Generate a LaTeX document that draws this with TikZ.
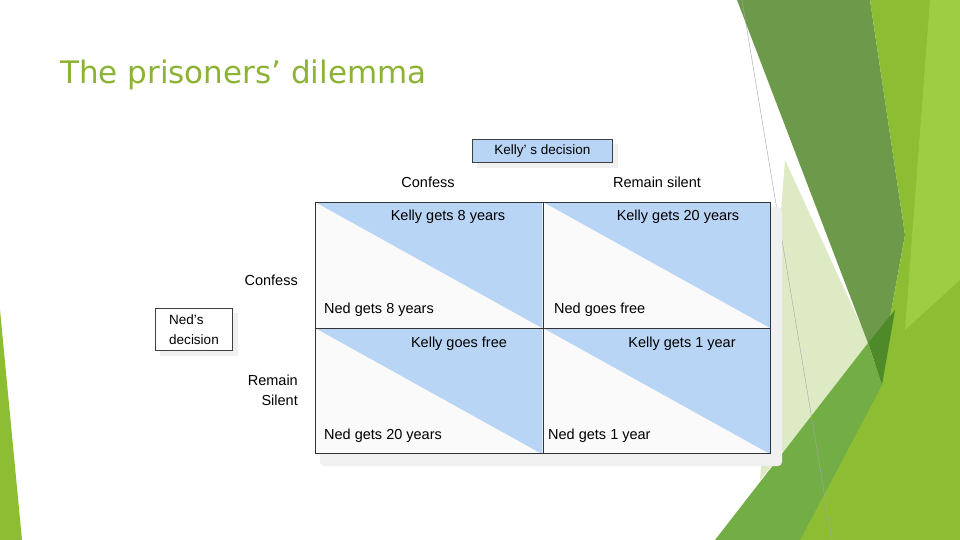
\documentclass[tikz,border=0pt]{standalone}
\usepackage{fontspec}
\setmainfont{Liberation Sans}
\newfontfamily\titlefont{DejaVu Sans}
\definecolor{cblue}{RGB}{185,213,245}
\definecolor{gA}{RGB}{141,189,51}
\definecolor{gB}{RGB}{158,204,66}
\definecolor{gDark}{RGB}{79,138,42}
\definecolor{gLow}{RGB}{114,173,69}
\definecolor{gBand}{RGB}{108,154,74}
\definecolor{gPale}{RGB}{222,234,195}
\definecolor{ctitle}{RGB}{141,179,54}
\begin{document}
\begin{tikzpicture}[x=1pt,y=-1pt,
  lbl/.style={font=\fontsize{14.5}{17}\selectfont,inner sep=0pt},
  hdr/.style={font=\fontsize{14.5}{20}\selectfont,inner sep=0pt},
  dbox/.style={draw=black!75,line width=1pt,font=\fontsize{13.5}{20}\selectfont,inner sep=3pt,anchor=north west,align=left}]
\useasboundingbox (0,0) rectangle (960,540);
\fill[white] (0,0) rectangle (960,540);
% decoration
\fill[gPale] (785,160) -- (870,345) -- (760,480) -- cycle;
\fill[gBand] (737,0) -- (870,0) -- (905,235) -- (885,345) -- (868,343) -- cycle;
\fill[gA] (870,0) -- (960,0) -- (960,540) -- (790,540) -- (885,345) -- (905,235) -- cycle;
\fill[gB] (930,0) -- (960,0) -- (960,280) -- (905,330) -- cycle;
\fill[gDark] (868,343) -- (895,310) -- (882,385) -- cycle;
\fill[gLow] (715,540) -- (868,343) -- (882,385) -- (800,540) -- cycle;
\fill[gA] (0,310) -- (22,540) -- (0,540) -- cycle;
\draw[gray!70,line width=0.4pt] (742,0) -- (832,540);
% title
\node[anchor=west,inner sep=0pt,text=ctitle] (title) at (60,75) {\titlefont\fontsize{31}{36}\selectfont The prisoners’ dilemma};
% shadow
\fill[black!6,rounded corners=4pt] (320,207) rectangle (782,466);
\fill[black!6] (477,144) rectangle (618,168);
\fill[black!6] (160,313) rectangle (238,356);
% cells
\foreach \x/\y in {315/202,543/202,315/328,543/328}{
  \fill[black!2] (\x,\y) rectangle ++(227,126);
  \fill[cblue] (\x,\y) -- ++(227,0) -- ++(0,126) -- cycle;
}
\draw[black!80,line width=1pt] (315,202) rectangle (770,453);
\draw[black!80,line width=1pt] (543,202) -- (543,453) (315,328) -- (770,328);
% decision boxes
\node[dbox,fill=cblue,minimum width=140pt,minimum height=23pt,inner sep=5pt] (kd) at (472,139) {Kelly’ s decision};
\node[dbox,fill=white,minimum width=77pt,minimum height=42pt,inner sep=2pt] (nd) at (155,308) {Ned’s\\decision};
% headers
\node[hdr] (c1) at (428,182) {Confess};
\node[hdr] (c2) at (657,182) {Remain silent};
\node[hdr,anchor=east] (r1) at (298,280) {Confess};
\node[hdr,anchor=east,align=right] (r2) at (298,390) {Remain\\Silent};
% payoffs
\node[lbl] (k11) at (448,217) {Kelly gets 8 years};
\node[lbl] (k12) at (678,217) {Kelly gets 20 years};
\node[lbl] (k21) at (459,344) {Kelly goes free};
\node[lbl] (k22) at (682,344) {Kelly gets 1 year};
\node[lbl,anchor=west] (n11) at (324,310) {Ned gets 8 years};
\node[lbl,anchor=west] (n12) at (554,310) {Ned goes free};
\node[lbl,anchor=west] (n21) at (324,436) {Ned gets 20 years};
\node[lbl,anchor=west] (n22) at (548,436) {Ned gets 1 year};
\end{tikzpicture}
\end{document}
